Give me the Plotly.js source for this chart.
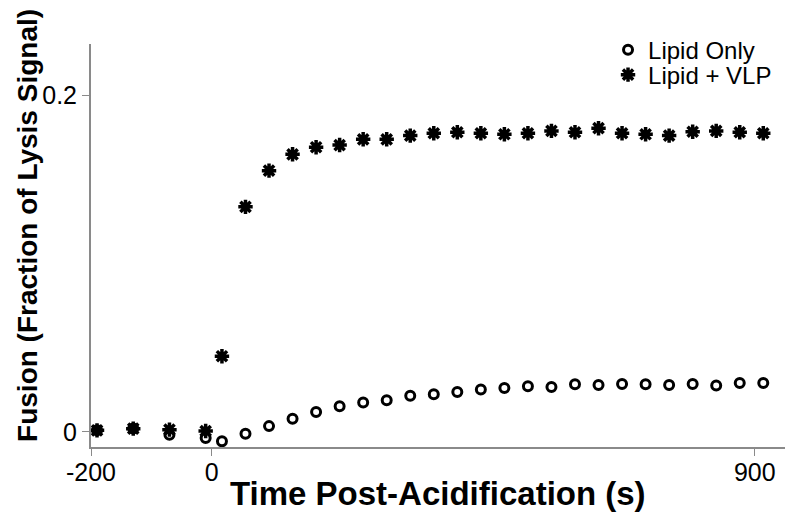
<!DOCTYPE html>
<html>
<head>
<meta charset="utf-8">
<script src="https://cdn.plot.ly/plotly-3.0.1.min.js"></script>
<style>html,body{margin:0;padding:0;background:#fff;}#chart{width:800px;height:524px;}</style>
</head>
<body>
<div id="chart"></div>
<script>
// Time points (s)
const timeSec = [-190, -130, -70, -10, 17, 56, 95, 134, 173, 212, 251, 290, 329, 368, 407, 446, 485, 524, 563, 602, 641, 680, 719, 758, 797, 836, 875, 914];
// Lipid only (fraction of lysis signal)
const lipidOnly = [0.001, 0.002, -0.0017, -0.0037, -0.0056, -0.0012, 0.0034, 0.0078, 0.0118, 0.0152, 0.0174, 0.0187, 0.0215, 0.0223, 0.0237, 0.0251, 0.0260, 0.0271, 0.0266, 0.0282, 0.0278, 0.0284, 0.0282, 0.0278, 0.0284, 0.0275, 0.0290, 0.0290];
// Lipid + VLP
const lipidVLP = [0.0009, 0.0019, 0.0013, 0.0005, 0.0449, 0.1336, 0.1551, 0.1648, 0.1690, 0.1703, 0.1737, 0.1737, 0.1759, 0.1773, 0.1779, 0.1773, 0.1767, 0.1773, 0.1787, 0.1779, 0.1803, 0.1773, 0.1767, 0.1759, 0.1782, 0.1787, 0.1779, 0.1773];
const seriesNames = ['Lipid Only', 'Lipid + VLP'];
const xTickVals = [-200, 0, 900];
const xTickText = ['-200', '0', '900'];
const yTickVals = [0, 0.2];
const yTickText = ['0', '0.2'];
const xTitle = 'Time Post-Acidification (s)';
const yTitle = 'Fusion (Fraction of Lysis Signal)';

const traces = [
  {
    x: timeSec, y: lipidOnly, name: seriesNames[0], type: 'scatter', mode: 'markers', legend: 'legend',
    marker: {symbol: 'circle-open', size: 9, color: '#000', line: {width: 3, color: '#000'}}
  },
  {
    x: timeSec, y: lipidVLP, name: seriesNames[1], type: 'scatter', mode: 'markers', legend: 'legend2',
    marker: {symbol: 'asterisk-open', size: 12, color: '#000', line: {width: 3.5, color: '#000'}}
  }
];

const sans = 'Liberation Sans, Arial, sans-serif';
const axisFont = {family: sans, size: 25, color: '#000'};
const legendFont = {family: sans, size: 24, color: '#000'};
const layout = {
  width: 800, height: 524,
  margin: {l: 91, r: 15, t: 44, b: 77},
  paper_bgcolor: '#fff', plot_bgcolor: '#fff',
  showlegend: true,
  legend: {x: 0.745, y: 0.985, xanchor: 'left', yanchor: 'middle', bgcolor: 'rgba(0,0,0,0)', font: legendFont},
  legend2: {x: 0.745, y: 0.923, xanchor: 'left', yanchor: 'middle', bgcolor: 'rgba(0,0,0,0)', font: legendFont},
  xaxis: {
    range: [-200, 950], tickvals: xTickVals, ticktext: xTickText,
    showgrid: false, zeroline: false, showline: true, linecolor: '#8a8a8a', linewidth: 2,
    ticks: 'outside', ticklen: 7, tickcolor: '#8a8a8a', tickwidth: 1,
    tickfont: axisFont, ticklabelstandoff: -5
  },
  yaxis: {
    range: [-0.009, 0.2303], tickvals: yTickVals, ticktext: yTickText,
    showgrid: false, zeroline: false, showline: true, linecolor: '#8a8a8a', linewidth: 2,
    ticks: 'outside', ticklen: 7, tickcolor: '#8a8a8a', tickwidth: 1,
    tickfont: axisFont
  },
  annotations: [
    {
      text: xTitle, showarrow: false,
      xref: 'paper', yref: 'paper', x: 0.5, y: -0.1166, xanchor: 'center', yanchor: 'middle',
      font: {family: sans, size: 33, color: '#000', weight: 'bold'}
    },
    {
      text: yTitle, textangle: -90, showarrow: false,
      xref: 'paper', yref: 'paper', x: -0.0908, y: 0.551, xanchor: 'center', yanchor: 'middle',
      font: {family: sans, size: 28, color: '#000', weight: 'bold'}
    }
  ]
};

Plotly.newPlot('chart', traces, layout, {displayModeBar: false, staticPlot: true});
</script>
</body>
</html>
